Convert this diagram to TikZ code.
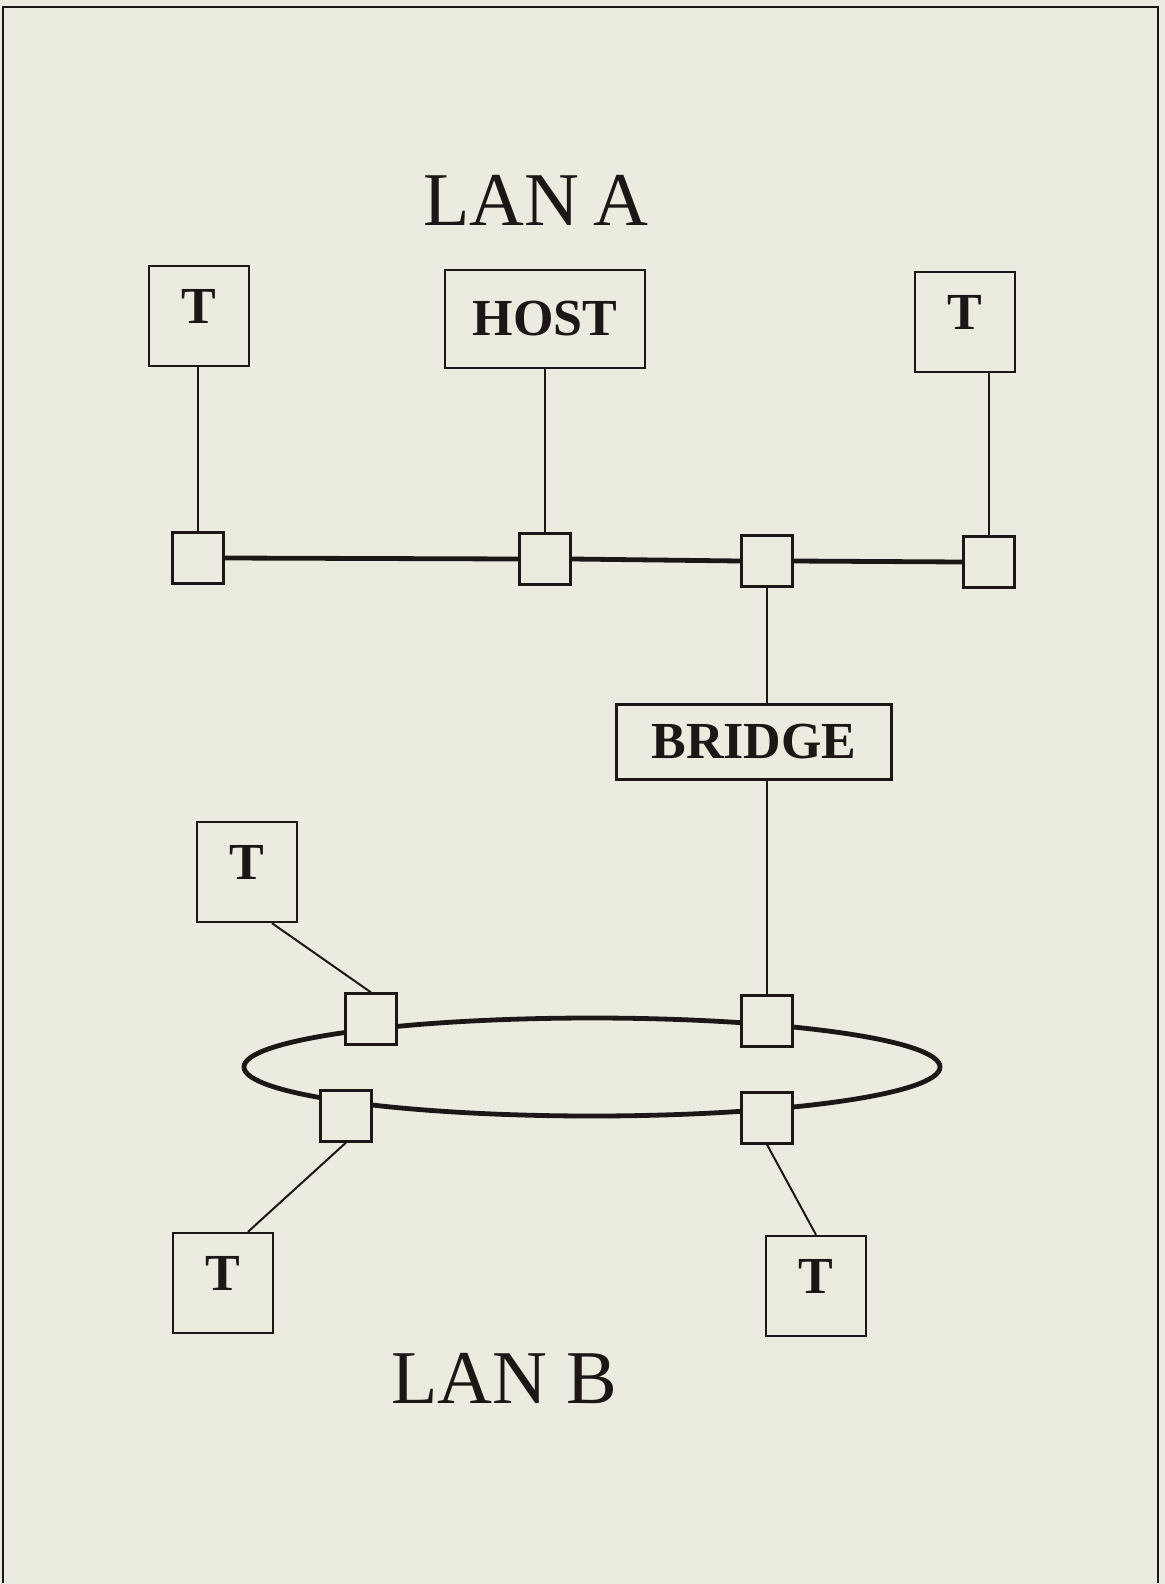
\documentclass[tikz,border=0pt]{standalone}
\usepackage{fontspec}
\setmainfont{Liberation Serif}
\usetikzlibrary{calc}
\definecolor{paper}{RGB}{236,235,223}
\definecolor{ink}{RGB}{28,22,22}
\begin{document}
\begin{tikzpicture}[x=0.5pt,y=-0.5pt,
  box/.style={draw=ink, line width=1.2pt, fill=paper, inner sep=0pt,
    font=\bfseries\fontsize{26}{26}\selectfont, text=ink},
  term/.style={box, minimum width=50pt, minimum height=50pt},
  tap/.style={draw=ink, line width=1.1pt, fill=paper, minimum size=25.5pt, inner sep=0pt},
  link/.style={draw=ink, line width=1pt},
  trunk/.style={draw=ink, line width=2.4pt},
  title/.style={font=\fontsize{38}{38}\selectfont, text=ink, inner sep=0pt}]

% page and frame
\fill[paper] (0,0) rectangle (1165,1584);
\useasboundingbox (0,0) rectangle (1165,1584);
\draw[ink, line width=1.2pt] (3,1583) -- (3,7) -- (1158,7) -- (1158,1583);

% titles
\node[title] (lanA) at (536,200) {LAN\hspace{7pt}A};
\node[title] (lanB) at (504,1379) {LAN B};

% LAN A stations
\node[term] (t1) at (199,316) {\raisebox{10pt}{T}};
\node[box, minimum width=100pt, minimum height=49pt] (host) at (545,319) {HOST};
\node[term] (t2) at (965,322) {\raisebox{10pt}{T}};

% bridge
\node[box, minimum width=137.5pt, minimum height=37.5pt] (bridge) at (754,742) {BRIDGE};

% LAN B stations
\node[term] (t3) at (247,872) {\raisebox{10pt}{T}};
\node[term] (t4) at (223,1283) {\raisebox{10pt}{T}};
\node[term] (t5) at (816,1286) {\raisebox{10pt}{T}};

% ring of LAN B
\draw[trunk] (592,1067) ellipse [x radius=174pt, y radius=24.5pt];

% bus taps
\node[tap] (s1) at (198,558) {};
\node[tap] (s2) at (545,559) {};
\node[tap] (s3) at (767,561) {};
\node[tap] (s4) at (989,562) {};

% ring taps
\node[tap] (r1) at (371,1019) {};
\node[tap] (r2) at (767,1021) {};
\node[tap] (r3) at (346,1116) {};
\node[tap] (r4) at (767,1118) {};

% bus of LAN A
\draw[trunk] (s1.east) -- (s2.west) (s2.east) -- (s3.west) (s3.east) -- (s4.west);

% drop cables
\draw[link] (s1.north |- t1.south) -- (s1.north);
\draw[link] (host.south) -- (s2.north);
\draw[link] (s4.north) -- (s4.north |- t2.south);
\draw[link] (s3.south) -- (s3.south |- bridge.north);
\draw[link] (bridge.south -| r2.north) -- (r2.north);
\draw[link] ($(t3.south)+(25,0)$) -- (r1.north);
\draw[link] (r3.south) -- ($(t4.north)+(25,0)$);
\draw[link] (r4.south) -- (t5.north);
\end{tikzpicture}
\end{document}
